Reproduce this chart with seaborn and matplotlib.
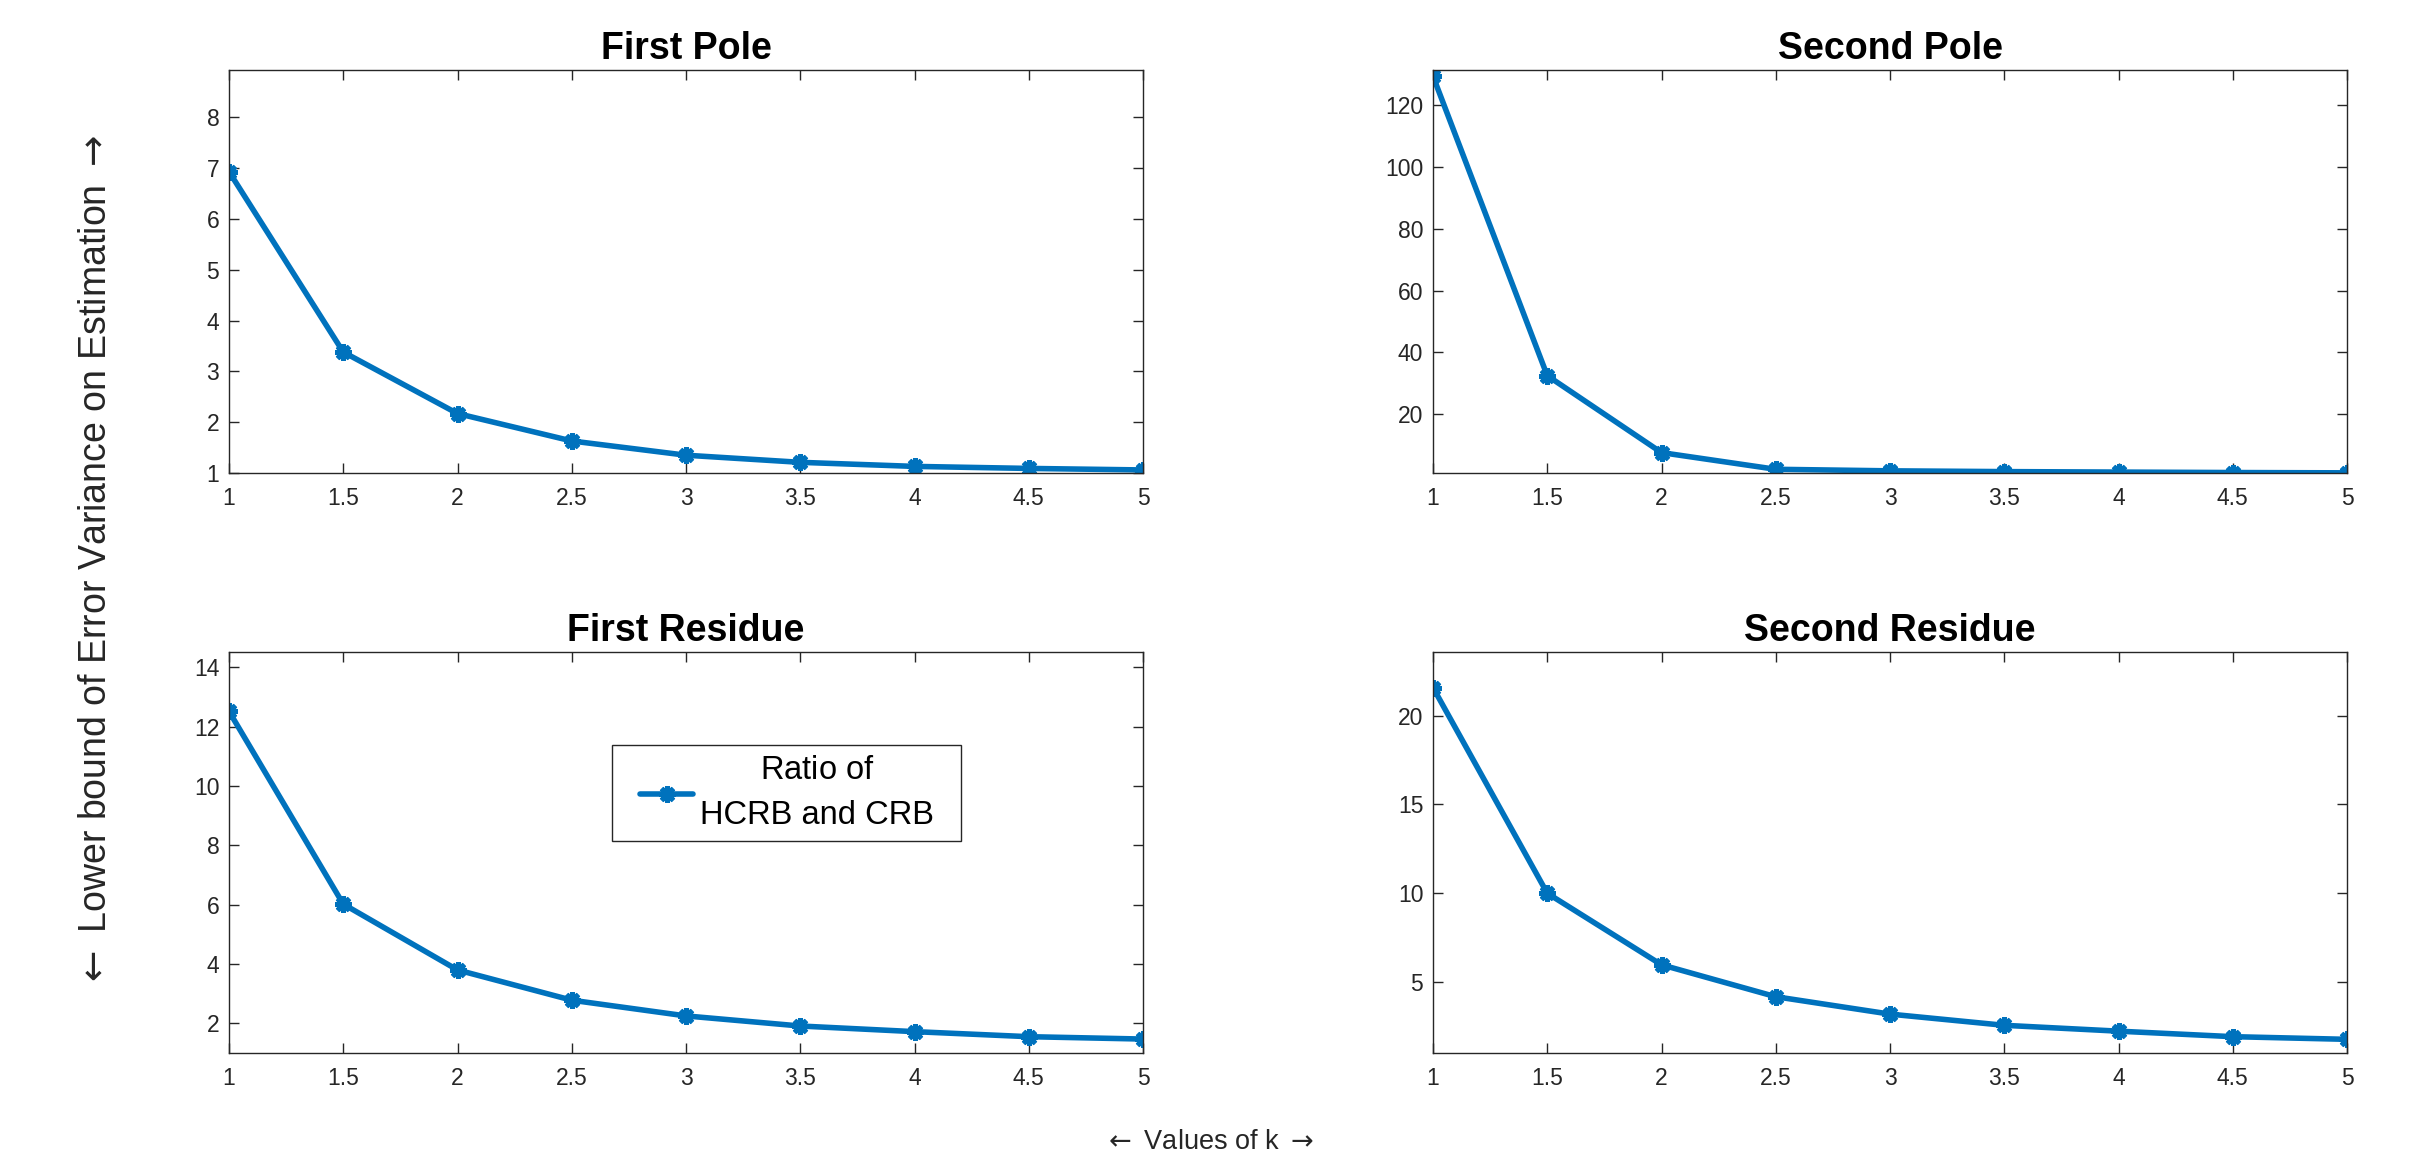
import numpy as np
import pandas as pd
import matplotlib
matplotlib.use("Agg")
import matplotlib.pyplot as plt
from matplotlib.legend_handler import HandlerLine2D
from matplotlib.patches import Rectangle
from matplotlib.transforms import IdentityTransform
import seaborn as sns

# ---- data ----
k_values = [1, 1.5, 2, 2.5, 3, 3.5, 4, 4.5, 5]
k_tick_labels = ["1", "1.5", "2", "2.5", "3", "3.5", "4", "4.5", "5"]
first_pole = [6.93, 3.38, 2.17, 1.63, 1.35, 1.21, 1.13, 1.09, 1.06]
second_pole = [129.4, 32.5, 7.6, 2.2, 1.7, 1.45, 1.3, 1.15, 1.05]
first_residue = [12.52, 6.02, 3.80, 2.78, 2.25, 1.91, 1.72, 1.55, 1.47]
second_residue = [21.59, 10.0, 5.97, 4.17, 3.19, 2.56, 2.23, 1.92, 1.77]
titles = ["First Pole", "Second Pole", "First Residue", "Second Residue"]
yticks_list = [
    [1, 2, 3, 4, 5, 6, 7, 8],
    [20, 40, 60, 80, 100, 120],
    [2, 4, 6, 8, 10, 12, 14],
    [5, 10, 15, 20],
]
legend_lines = ["Ratio of", "HCRB and CRB"]
xlabel_text = r"$\leftarrow$ Values of k $\rightarrow$"
ylabel_text = r"$\leftarrow$ Lower bound of Error Variance on Estimation $\rightarrow$"

series = [first_pole, second_pole, first_residue, second_residue]

sns.set_theme(style="white")
plt.rcParams["font.family"] = ["Liberation Sans", "DejaVu Sans"]
plt.rcParams["mathtext.fontset"] = "dejavusans"

W, H = 2417, 1161
dpi = 100
fig = plt.figure(figsize=(W / dpi, H / dpi), dpi=dpi)

line_color = "#0072BD"
ax_color = "#262626"

legend_label = legend_lines[0] + r"$\hspace{1.4}$" + "\n" + legend_lines[1]

# axes positions in pixels (left, top, right, bottom)
boxes = [
    (229, 70, 1143, 473),
    (1433, 70, 2347, 473),
    (229, 652, 1143, 1053),
    (1433, 652, 2347, 1053),
]

axes = []
for i, (l, t, r, b) in enumerate(boxes):
    ax = fig.add_axes([l / W, 1 - b / H, (r - l) / W, (b - t) / H])
    axes.append(ax)
    df = pd.DataFrame({"k": k_values, "v": series[i]})
    sns.lineplot(
        data=df, x="k", y="v", ax=ax, color=line_color, linewidth=4,
        marker=(8, 2, 0), markersize=12, markeredgewidth=3.6,
        markeredgecolor=line_color, markerfacecolor=line_color,
        label=legend_label if i == 2 else None, legend=False,
    )
    ax.set_xlim(1, 5)
    ax.set_ylim(1, max(series[i]) + 2)
    ax.set_xticks(k_values)
    ax.set_xticklabels(k_tick_labels)
    ax.set_yticks(yticks_list[i])
    ax.set_yticklabels([str(v) for v in yticks_list[i]])
    ax.set_xlabel("")
    ax.set_ylabel("")
    ax.set_title(titles[i], fontsize=27, fontweight="bold", color="black", pad=8)
    ax.tick_params(axis="both", which="major", direction="in", length=7, width=1,
                   color=ax_color, labelcolor=ax_color, labelsize=16.5,
                   top=True, right=True, bottom=True, left=True)
    ax.tick_params(axis="x", pad=10)
    ax.tick_params(axis="y", pad=7)
    for sp in ax.spines.values():
        sp.set_visible(True)
        sp.set_color(ax_color)
        sp.set_linewidth(1.0)
    ax.set_facecolor("white")
    ax.grid(False)

# legend in the bottom-left panel
leg_fs = 23.5
leg_ax = axes[2]
handles, labels = leg_ax.get_legend_handles_labels()
leg = leg_ax.legend(
    handles, labels, loc="upper left", bbox_to_anchor=(0.419, 0.768),
    fontsize=leg_fs, frameon=False, handlelength=2.19, handletextpad=0.2,
    borderpad=0.3, borderaxespad=0,
    handler_map={handles[0]: HandlerLine2D(xpad=0.56)},
)
for t in leg.get_texts():
    t.set_multialignment("center")
    t.set_color("black")
    t.set_linespacing(1.6)

# frame around the legend, with extra room on the right like the original
fig.canvas.draw()
bb = leg.get_window_extent()
extra = 0.53 * leg_fs * dpi / 72.0
frame = Rectangle((bb.x0, bb.y0), bb.width + extra, bb.height,
                  transform=IdentityTransform(), facecolor="white",
                  edgecolor=ax_color, linewidth=1.0, zorder=4.9, clip_on=False)
leg_ax.add_patch(frame)

fig.text(0.5, 1 - 1142 / H, xlabel_text, ha="center", va="center",
         fontsize=19.5, color=ax_color)
fig.text(96 / W, 0.516, ylabel_text, ha="center", va="center",
         rotation=90, fontsize=27, color=ax_color)

fig.savefig("out.png", dpi=dpi, facecolor="white")
